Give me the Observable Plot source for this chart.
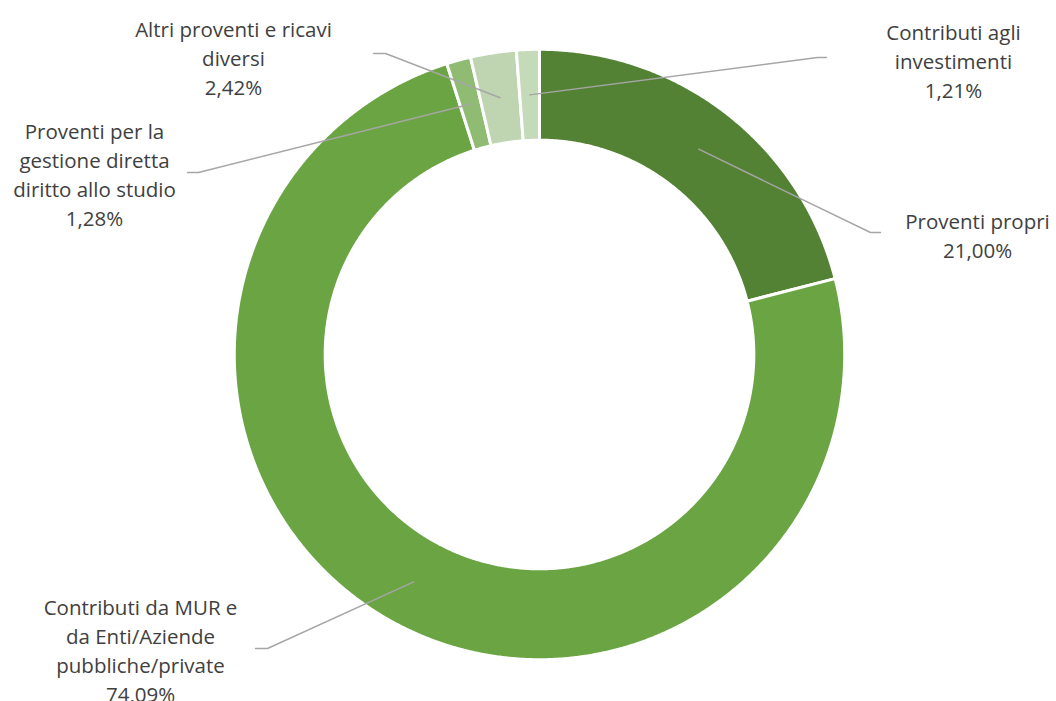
<!DOCTYPE html>
<html>
<head>
<meta charset="utf-8">
<script src="https://cdn.jsdelivr.net/npm/d3@7"></script>
<script src="https://cdn.jsdelivr.net/npm/@observablehq/plot@0.6"></script>
<style>
  html, body { margin: 0; padding: 0; background: #ffffff; }
  #chart { width: 1056px; height: 701px; }
</style>
</head>
<body>
<div id="chart"></div>
<script>
// ---- Data ----
const categories = [
  "Proventi propri",
  "Contributi da MUR e da Enti/Aziende pubbliche/private",
  "Proventi per la gestione diretta diritto allo studio",
  "Altri proventi e ricavi diversi",
  "Contributi agli investimenti"
];
const values = [21.00, 74.09, 1.28, 2.42, 1.21];
const labelLines = [
  ["Proventi propri"],
  ["Contributi da MUR e", "da Enti/Aziende", "pubbliche/private"],
  ["Proventi per la", "gestione diretta", "diritto allo studio"],
  ["Altri proventi e ricavi", "diversi"],
  ["Contributi agli", "investimenti"]
];
const colors = ["#548235", "#6AA443", "#8FBB72", "#BFD5B2", "#C5DAB9"];

// ---- Layout (pixels in the 1056x701 frame) ----
const W = 1056, H = 701;
const cx = 539, cy = 354, scalePx = 304;
const outerR = 1.004, innerR = 0.705;
const labelX = [977, 140, 94, 233, 953];
const labelY = [234, 649, 173, 56, 59];
const elbowX = [870, 267, 198, 385, 817];
const elbowY = [232, 648, 172, 53, 57];
const endX = [880, 255, 187, 373, 826];

const ux = px => (px - cx) / scalePx;
const uy = py => (cy - py) / scalePx;

// ---- Build slices ----
const total = d3.sum(values);
let acc = 0;
const slices = categories.map((c, i) => {
  const a0 = acc / total * 2 * Math.PI;
  acc += values[i];
  const a1 = acc / total * 2 * Math.PI;
  return {cat: c, a0, a1, value: values[i]};
});

const polyPts = [];
for (const s of slices) {
  const n = Math.max(2, Math.ceil((s.a1 - s.a0) / 0.005));
  for (let k = 0; k <= n; k++) {
    const a = s.a0 + (s.a1 - s.a0) * k / n;
    polyPts.push({cat: s.cat, x: outerR * Math.sin(a), y: outerR * Math.cos(a)});
  }
  for (let k = n; k >= 0; k--) {
    const a = s.a0 + (s.a1 - s.a0) * k / n;
    polyPts.push({cat: s.cat, x: innerR * Math.sin(a), y: innerR * Math.cos(a)});
  }
}

// leader lines
const midR = (outerR + innerR) / 2;
const leaderPts = [];
slices.forEach((s, i) => {
  const am = (s.a0 + s.a1) / 2;
  leaderPts.push({cat: s.cat, x: midR * Math.sin(am), y: midR * Math.cos(am)});
  leaderPts.push({cat: s.cat, x: ux(elbowX[i]), y: uy(elbowY[i])});
  leaderPts.push({cat: s.cat, x: ux(endX[i]), y: uy(elbowY[i])});
});

const fmt = v => v.toFixed(2).replace(".", ",") + "%";
const labels = slices.map((s, i) => ({
  cat: s.cat,
  x: ux(labelX[i]),
  y: uy(labelY[i]),
  text: labelLines[i].join("\n") + "\n" + fmt(s.value)
}));

const chart = Plot.plot({
  width: W,
  height: H,
  margin: 0,
  style: {background: "#ffffff"},
  x: {domain: [ux(0), ux(W)], range: [0, W], axis: null},
  y: {domain: [uy(H), uy(0)], range: [H, 0], axis: null},
  color: {domain: categories, range: colors},
  marks: [
    Plot.line(polyPts, {x: "x", y: "y", z: "cat", fill: "cat", stroke: "#ffffff", strokeWidth: 3, curve: "linear-closed"}),
    Plot.line(leaderPts, {x: "x", y: "y", z: "cat", stroke: "#A6A6A6", strokeWidth: 1.4, curve: "linear"}),
    Plot.text(labels, {
      x: "x", y: "y", text: "text",
      textAnchor: "middle", lineAnchor: "middle", lineHeight: 1.42,
      fontSize: 20.5, fontFamily: "Open Sans", fill: "#404040"
    })
  ]
});
document.getElementById("chart").appendChild(chart);
</script>
</body>
</html>
